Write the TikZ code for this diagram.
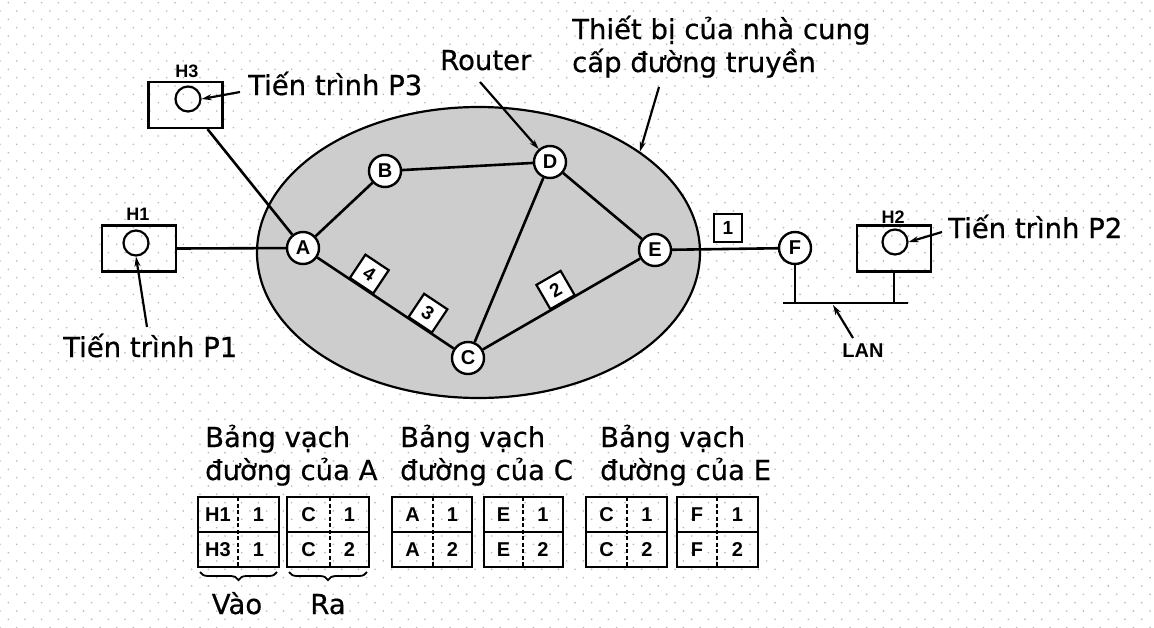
\documentclass[tikz,border=0pt]{standalone}
\usepackage{fontspec}
\setmainfont{DejaVu Sans}
\newfontfamily\bigfont{DejaVu Sans}[FakeBold=0.6]
\newfontfamily\labfont{Liberation Sans}
\usetikzlibrary{arrows.meta,shapes.geometric,decorations.pathreplacing,calc}
\definecolor{cloudgray}{HTML}{CDCDCD}
\definecolor{dotgray}{HTML}{B8B8B8}
\tikzset{
  big/.style={font=\bigfont\fontsize{27.5}{33}\selectfont, inner sep=0pt},
  rnode/.style={circle, draw, line width=2.4pt, fill=white, minimum size=32pt, inner sep=0pt,
    font=\labfont\bfseries\fontsize{20}{20}\selectfont},
  hostbox/.style={draw, line width=2.2pt, minimum width=74pt, minimum height=46pt, inner sep=0pt},
  proc/.style={circle, draw, line width=2.2pt, minimum size=25pt, inner sep=0pt},
  hlabel/.style={font=\labfont\bfseries\fontsize{18}{18}\selectfont, inner sep=0pt},
  link/.style={line width=2.6pt},
  pkt/.style={draw, line width=2.2pt, fill=white, minimum size=28pt, inner sep=0pt,
    font=\labfont\bfseries\fontsize{19}{19}\selectfont},
  pointer/.style={line width=2.2pt, -{Stealth[length=10pt,width=6pt]}},
  tabframe/.style={line width=2.6pt},
  tabrow/.style={line width=1.8pt},
  tabdash/.style={line width=1.3pt, dash pattern=on 4pt off 2.5pt},
  tabtxt/.style={font=\labfont\bfseries\fontsize{20}{20}\selectfont, inner sep=0pt},
  bracestyle/.style={line width=1.8pt, decorate, decoration={brace, mirror, amplitude=8pt}}
}
\newcommand\rtab[8]{%
  \draw[tabframe] (#2,497) rectangle (#4,567);
  \draw[tabrow] (#2,532) -- (#4,532);
  \draw[tabdash] (#3,497) -- (#3,567);
  \node[tabtxt] (#1a) at ({(#2+#3)/2},514.5) {#5};
  \node[tabtxt] (#1b) at ({(#3+#4)/2},514.5) {#6};
  \node[tabtxt] (#1c) at ({(#2+#3)/2},549.5) {#7};
  \node[tabtxt] (#1d) at ({(#3+#4)/2},549.5) {#8};
}
\begin{document}
\begin{tikzpicture}[x=1pt,y=-1pt]
\useasboundingbox (0,0) rectangle (1154,627);
\fill[white] (0,0) rectangle (1154,627);
% background dots
\foreach \j in {0,...,75} {
  \pgfmathsetmacro\yy{2.667+8.333*\j}
  \pgfmathsetmacro\xo{8.333*mod(\j+1,2)}
  \fill[dotgray] \foreach \i in {0,...,69} { ({16.667*\i + \xo}, \yy) circle (0.9) };
}

% provider cloud
\node[ellipse, draw, line width=2.2pt, fill=cloudgray, minimum width=443pt, minimum height=291pt, inner sep=0pt] (cloud) at (478.5,252.5) {};

% hosts
\node[hostbox] (h1) at (139,248.5) {};
\node[hostbox] (h3) at (185.5,105) {};
\node[hostbox] (h2) at (894,248.5) {};
\node[proc] (p1c) at (136,243) {};
\node[proc] (p3c) at (188,99) {};
\node[proc] (p2c) at (895,242) {};
\node[hlabel, anchor=south] (h1l) at (138,221) {H1};
\node[hlabel, anchor=south] (h3l) at (187,78) {H3};
\node[hlabel, anchor=south] (h2l) at (893,224) {H2};

% routers
\node[rnode] (A) at (303,248) {A};
\node[rnode] (B) at (385,171) {B};
\node[rnode] (D) at (550,162) {D};
\node[rnode] (E) at (655,250) {E};
\node[rnode] (C) at (468,358) {C};
\node[rnode] (F) at (795,248) {F};

% links
\draw[link] (h1.east) -- (A);
\draw[link] ($(h3.south)+(22,0)$) -- (A);
\draw[link] (A) -- (B);
\draw[link] (B) -- (D);
\draw[link] (D) -- (E);
\draw[link] (D) -- (C);
\draw[link] (A) -- node[pkt, sloped, above, pos=0.32] (k4) {4} node[pkt, sloped, above, pos=0.75] (k3) {3} (C);
\draw[link] (C) -- node[pkt, sloped, above, pos=0.51] (k2) {2} (E);
\draw[link] (E) -- (F);
\node[pkt] (k1) at (728,228) {1};

% LAN
\coordinate (lanL) at (783,303);
\coordinate (lanR) at (908,303);
\draw[link] (lanL) -- (lanR);
\draw[link] (F.south) -- (F.south |- lanL);
\draw[link] (h2.south) -- (h2.south |- lanL);
\node[hlabel, font=\labfont\bfseries\fontsize{20}{20}\selectfont] (lanlab) at (863,351) {LAN};
\coordinate (lantail) at (853,338);
\draw[pointer] (lantail) -- (833,305);

% process labels
\node[big, anchor=base west] (P3) at (248,95) {Tiến trình P3};
\node[big, anchor=base west] (P1) at (63,357) {Tiến trình P1};
\node[big, anchor=base west] (P2) at (948,238) {Tiến trình P2};
\coordinate (p3tail) at (240,92);
\coordinate (p1tail) at (147,327);
\coordinate (p2tail) at (942,232);
\draw[pointer] (p3tail) -- (p3c.east);
\draw[pointer] (p1tail) -- (p1c.south);
\draw[pointer] (p2tail) -- (p2c.east);

% router / provider labels
\node[big, anchor=base west] (rt) at (440,70) {Router};
\coordinate (rttail) at (480,82);
\draw[pointer] (rttail) -- (D);
\node[big, anchor=base west, align=left] (prov) at (572,72) {Thiết bị của nhà cung\\cấp đường truyền};
\coordinate (provtail) at (659,87);
\draw[pointer] (provtail) -- (cloud.32);

% routing tables
\node[big, anchor=base west, align=left] (ta) at (205,480) {Bảng vạch\\đường của A};
\node[big, anchor=base west, align=left] (tc) at (400,480) {Bảng vạch\\đường của C};
\node[big, anchor=base west, align=left] (te) at (600,480) {Bảng vạch\\đường của E};
\rtab{t1}{198}{238}{279}{H1}{1}{H3}{1}
\rtab{t2}{287}{330}{369}{C}{1}{C}{2}
\rtab{t3}{392}{433}{472}{A}{1}{A}{2}
\rtab{t4}{484}{523}{563}{E}{1}{E}{2}
\rtab{t5}{586}{627}{667}{C}{1}{C}{2}
\rtab{t6}{677}{717}{758}{F}{1}{F}{2}
\draw[bracestyle] (200,572) -- (277,572);
\draw[bracestyle] (289,572) -- (367,572);
\node[big, anchor=base] (vao) at (237,614) {Vào};
\node[big, anchor=base] (ra) at (328,614) {Ra};
\end{tikzpicture}
\end{document}
